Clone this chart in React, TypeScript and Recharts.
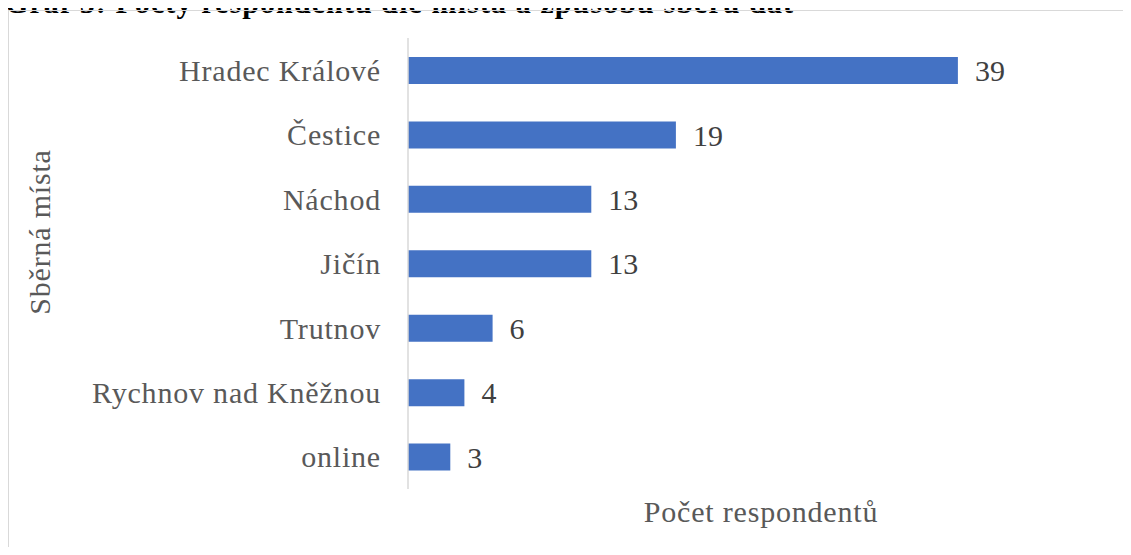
import * as React from 'react';
import { BarChart, Bar, XAxis, YAxis, LabelList } from 'recharts';

// Počty respondentů podle sběrného místa
const places = ['Hradec Králové', 'Čestice', 'Náchod', 'Jičín', 'Trutnov', 'Rychnov nad Kněžnou', 'online'];
const counts = [39, 19, 13, 13, 6, 4, 3];

const TITLE = 'Graf 5: Počty respondentů dle místa a způsobu sběru dat';
const Y_TITLE = 'Sběrná místa';
const X_TITLE = 'Počet respondentů';

const FONT = '"Liberation Serif", "Times New Roman", serif';
const BAR_COLOR = '#4472C4';

const data = places.map((place, i) => ({ place, count: counts[i] }));

const App: React.FunctionComponent = () => {
  return (
    <div style={{ position: 'relative', margin: -8, width: 1131, height: 555, overflow: 'hidden', background: '#fff', fontFamily: FONT }}>
      <div style={{ position: 'absolute', left: 5, top: -13, fontSize: 30, lineHeight: '31px', fontWeight: 'bold', color: '#000', whiteSpace: 'nowrap', letterSpacing: 1.1 }}>
        {TITLE}
      </div>
      <div style={{ position: 'absolute', left: 8, top: 10, width: 1200, height: 600, border: '1.5px solid #d9d9d9', boxSizing: 'border-box' }} />
      <div style={{ position: 'absolute', left: 0, top: 0 }}>
        <BarChart
          width={1131}
          height={555}
          data={data}
          layout="vertical"
          margin={{ top: 38, right: 18, bottom: 66, left: 0 }}
          barCategoryGap={0}
        >
          <XAxis type="number" domain={[0, 50]} hide />
          <YAxis
            type="category"
            dataKey="place"
            width={408}
            axisLine={{ stroke: '#d9d9d9', strokeWidth: 1.5 }}
            tickLine={false}
            tickSize={0}
            tickMargin={27}
            interval={0}
            tick={{ fill: '#595959', fontSize: 30, fontFamily: FONT, letterSpacing: 0.8 }}
          />
          <Bar dataKey="count" fill={BAR_COLOR} barSize={27} isAnimationActive={false}>
            <LabelList dataKey="count" position="right" offset={17} fill="#404040" fontSize={30} fontFamily={FONT} />
          </Bar>
        </BarChart>
      </div>
      <div style={{ position: 'absolute', left: 40, top: 232, transform: 'translate(-50%, -50%) rotate(-90deg)', fontSize: 30, color: '#595959', whiteSpace: 'nowrap', letterSpacing: 0.8 }}>
        {Y_TITLE}
      </div>
      <div style={{ position: 'absolute', left: 761, top: 512, transform: 'translate(-50%, -50%)', fontSize: 30, color: '#595959', whiteSpace: 'nowrap', letterSpacing: 0.8 }}>
        {X_TITLE}
      </div>
    </div>
  );
};

export default App;
